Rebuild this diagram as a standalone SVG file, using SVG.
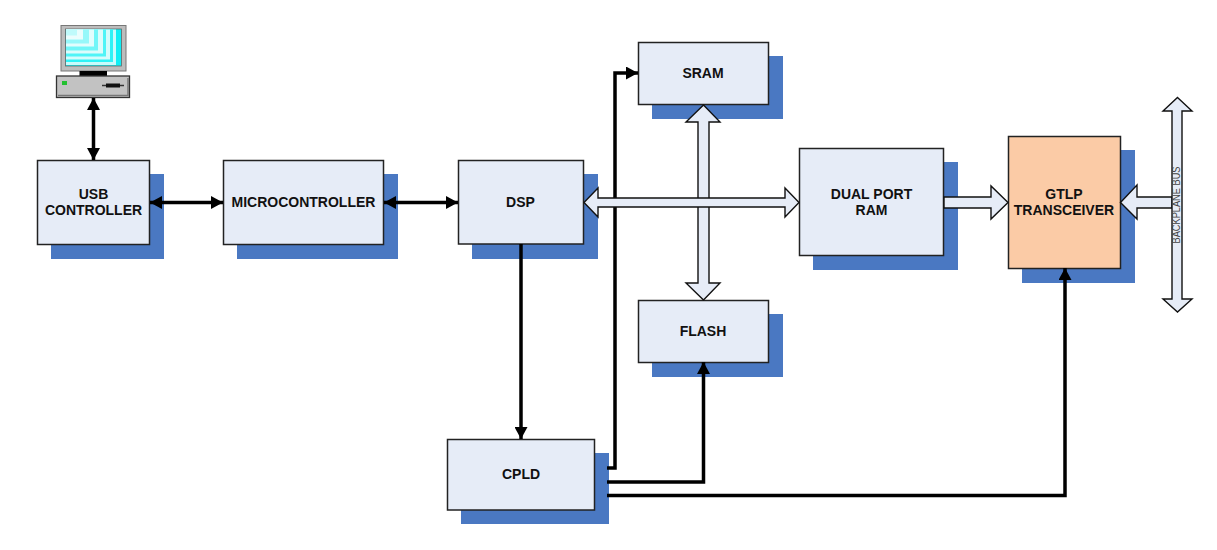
<svg xmlns="http://www.w3.org/2000/svg" width="1217" height="550" viewBox="0 0 1217 550">
<style>
.shadow{fill:#4a78c2}
.box{fill:#e6ecf7;stroke:#222;stroke-width:1.5}
.t{font-family:"Liberation Sans",Arial,sans-serif;font-size:14px;font-weight:bold;fill:#111;text-anchor:middle}
.wire{fill:none;stroke:#000;stroke-width:3.500}
.bus{fill:#e6ecf7;stroke:#111;stroke-width:1.4;stroke-linejoin:miter}
</style>
<defs>
<marker id="ah" markerUnits="userSpaceOnUse" markerWidth="13" markerHeight="13" refX="12" refY="6.5" orient="auto-start-reverse"><path d="M0 0L12 6.5L0 13Z" fill="#000"/></marker>
</defs>
<rect width="1217" height="550" fill="#fff"/>

<g id="computer">
<rect x="61" y="25.500" width="65" height="45.500" fill="#bdbdbd" stroke="#777" stroke-width="1"/>
<rect x="65.500" y="29" width="56" height="37" fill="#10eef4" stroke="#666" stroke-width="0.800"/>
<rect x="66" y="29.500" width="50" height="35.500" fill="#c8fbfc"/>
<rect x="66" y="29.500" width="47" height="32.500" fill="#2ef2f6"/>
<rect x="66" y="29.500" width="44" height="30" fill="#d4fcfc"/>
<rect x="66" y="29.500" width="40" height="27" fill="#4ff4f7"/>
<rect x="66" y="29.500" width="37" height="24" fill="#dcfcfc"/>
<rect x="66" y="29.500" width="32" height="21" fill="#72f6f8"/>
<rect x="66" y="29.500" width="28" height="17" fill="#e2fdfd"/>
<rect x="66" y="29.500" width="23" height="14" fill="#96f8fa"/>
<rect x="66" y="29.500" width="17" height="10" fill="#eafdfd"/>
<rect x="66" y="29.500" width="11" height="6" fill="#bffafb"/>
<rect x="79.500" y="71" width="27.500" height="5" fill="#000"/>
<rect x="56.500" y="76" width="73" height="21.500" fill="#c2c2c2" stroke="#333" stroke-width="1.300"/>
<path d="M58 95.500H128V78" fill="none" stroke="#777" stroke-width="1.500"/>
<rect x="62" y="81" width="5" height="4" fill="#22c030"/>
<path d="M102 85.500H124" stroke="#333" stroke-width="1.500"/>
<rect x="106" y="83.500" width="14" height="4" fill="#111"/>
</g>

<g id="usb-controller"><rect class="shadow" x="51" y="174" width="113" height="85"/><rect class="box" x="37.500" y="160.500" width="112" height="84"/><text class="t" x="93.500" y="198.500">USB</text><text class="t" x="93.500" y="215">CONTROLLER</text></g>
<g id="microcontroller"><rect class="shadow" x="237" y="174" width="161" height="85"/><rect class="box" x="223.500" y="160.500" width="160" height="84"/><text class="t" x="303.500" y="207">MICROCONTROLLER</text></g>
<g id="dsp"><rect class="shadow" x="472" y="174" width="126" height="85"/><rect class="box" x="458.500" y="160.500" width="125" height="83.500"/><text class="t" x="520.500" y="207">DSP</text></g>
<g id="sram"><rect class="shadow" x="652" y="56" width="131" height="63"/><rect class="box" x="638.500" y="42.500" width="130" height="62"/><text class="t" x="703" y="78">SRAM</text></g>
<g id="flash"><rect class="shadow" x="652" y="314" width="131" height="63"/><rect class="box" x="638.500" y="300.500" width="130" height="62"/><text class="t" x="703" y="336">FLASH</text></g>
<g id="dual-port-ram"><rect class="shadow" x="813" y="162" width="145" height="108"/><rect class="box" x="799.500" y="148.500" width="144" height="107"/><text class="t" x="871.500" y="198.500">DUAL PORT</text><text class="t" x="871.500" y="215">RAM</text></g>
<g id="gtlp-transceiver"><rect class="shadow" x="1022" y="150" width="113" height="133"/><rect x="1008.500" y="136.500" width="112" height="132" fill="#fbcba6" stroke="#222" stroke-width="1.500"/><text class="t" x="1064" y="198.500">GTLP</text><text class="t" x="1064" y="215">TRANSCEIVER</text></g>
<g id="cpld"><rect class="shadow" x="461" y="453" width="148" height="71"/><rect class="box" x="447.500" y="439.500" width="147" height="70.500"/><text class="t" x="521" y="479">CPLD</text></g>

<g id="connectors">
<path class="wire" d="M93.500 98V160" marker-start="url(#ah)" marker-end="url(#ah)"/>
<path class="wire" d="M150 202.500H223" marker-start="url(#ah)" marker-end="url(#ah)"/>
<path class="wire" d="M384 202.500H458" marker-start="url(#ah)" marker-end="url(#ah)"/>
<path class="wire" d="M521 244V439" marker-end="url(#ah)"/>
<path class="wire" d="M607 468H615V73H638" marker-end="url(#ah)"/>
<path class="wire" d="M607 482H703.500V362" marker-end="url(#ah)"/>
<path class="wire" d="M607 495.500H1065V268" marker-end="url(#ah)"/>
<path class="bus" d="M703.500 105L720 122H709V283H720L703.500 300L686 283H698V122H686Z"/>
<path class="bus" d="M584 202.500L598 188V198H785V188L799 202.500L785 217V207H598V217Z"/>
<path class="bus" d="M944 197H991V186L1008 202.500L991 219V208H944Z"/>
<path class="bus" d="M1172 197H1137V185L1120.500 202.500L1137 219V208H1172Z"/>
<path class="bus" d="M1177.500 97.500L1192 111H1182V299H1192L1177.500 312L1163 299H1172V111H1163Z"/>
</g>
<text transform="translate(1180 205) rotate(-90)" font-family="Liberation Sans, Arial, sans-serif" font-size="10px" textLength="77" lengthAdjust="spacingAndGlyphs" fill="#444" text-anchor="middle">BACKPLANE BUS</text>
</svg>
